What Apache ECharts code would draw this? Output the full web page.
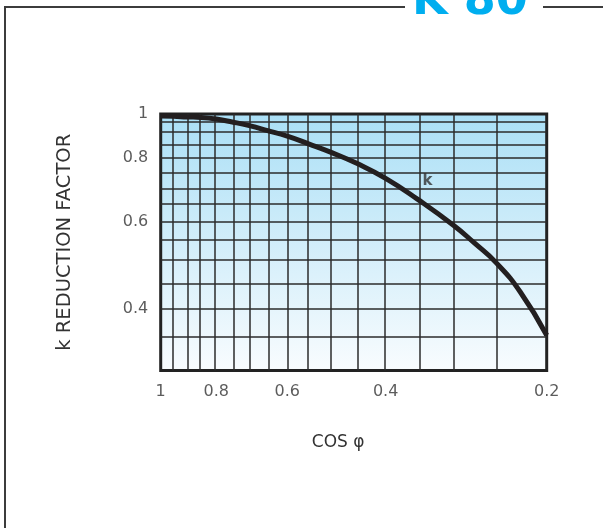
<!DOCTYPE html>
<html><head><meta charset="utf-8">
<script src="https://cdn.jsdelivr.net/npm/echarts@6/dist/echarts.min.js"></script>
<style>html,body{margin:0;padding:0;background:#fff}#c{width:603px;height:528px}</style>
</head><body><div id="c"></div>
<script>
// ---- data ----
const cosPhi   = [1, 0.95, 0.9, 0.85, 0.8, 0.75, 0.7, 0.65, 0.6, 0.55, 0.5, 0.45, 0.4, 0.35, 0.3, 0.275, 0.25, 0.225, 0.2];
const kFactor  = [0.984, 0.982, 0.978, 0.975, 0.965, 0.948, 0.929, 0.906, 0.882, 0.851, 0.818, 0.779, 0.73, 0.665, 0.59, 0.545, 0.497, 0.434, 0.354];
const xGridValues = [0.95, 0.9, 0.85, 0.8, 0.75, 0.7, 0.65, 0.6, 0.55, 0.5, 0.45, 0.4, 0.35, 0.3, 0.25];
const yGridValues = [0.95, 0.9, 0.85, 0.8, 0.75, 0.7, 0.65, 0.6, 0.55, 0.5, 0.45, 0.4, 0.35];
const xTickLabels = [1, 0.8, 0.6, 0.4, 0.2];
const yTickLabels = [1, 0.8, 0.6, 0.4];
const curveLabel = 'k';
const curveLabelAt = 0.35;
const titleText = 'K 80';
const xName = 'COS φ';
const yName = 'k REDUCTION FACTOR';
const X_MIN = 0.2, X_MAX = 1, Y_MIN = 0.3, Y_MAX = 1;

// axis scale transforms of the (non-linear) chart paper
function fx(c) { return Math.log((X_MAX + 0.03) / (c + 0.03)) / Math.log((X_MAX + 0.03) / (X_MIN + 0.03)); }
function fyRaw(k) {
  const L = Math.log(Y_MAX / k) / Math.log(Y_MAX / Y_MIN);
  return L - 0.445 * L * Math.exp(-L / 0.11);
}
function fy(k) { return fyRaw(k) / fyRaw(Y_MIN); }

const FONT = '"DejaVu Sans", "Liberation Sans", sans-serif';
const chart = echarts.init(document.getElementById('c'), null, {renderer: 'canvas'});
const labelIdx = cosPhi.indexOf(curveLabelAt);

chart.setOption({
  animation: false,
  backgroundColor: '#fff',
  grid: {
    left: 160.7, right: 56.3, top: 114, bottom: 157.5,
    show: true,
    backgroundColor: new echarts.graphic.LinearGradient(0, 0, 0, 1, [
      {offset: 0, color: '#aadff6'},
      {offset: 1, color: '#f9fcfe'}
    ]),
    borderColor: '#222', borderWidth: 3
  },
  xAxis: {
    type: 'value', min: 0, max: 1,
    axisLine: {show: false}, axisTick: {show: false}, axisLabel: {show: false}, splitLine: {show: false},
    name: xName, nameLocation: 'middle', nameGap: 64,
    nameTextStyle: {fontSize: 17, color: '#333', fontFamily: FONT, padding: [0, 31, 0, 0]}
  },
  yAxis: {
    type: 'value', min: 0, max: 1, inverse: true,
    axisLine: {show: false}, axisTick: {show: false}, axisLabel: {show: false}, splitLine: {show: false},
    name: yName, nameLocation: 'middle', nameGap: 86, nameRotate: 90,
    nameTextStyle: {fontSize: 19.5, color: '#333', fontFamily: FONT}
  },
  graphic: [
    {type: 'line', shape: {x1: 4, y1: 7, x2: 405, y2: 7}, style: {stroke: '#3c3c3c', lineWidth: 2}},
    {type: 'line', shape: {x1: 543, y1: 7, x2: 603, y2: 7}, style: {stroke: '#3c3c3c', lineWidth: 2}},
    {type: 'line', shape: {x1: 5, y1: 6, x2: 5, y2: 528}, style: {stroke: '#3c3c3c', lineWidth: 2}},
    {type: 'text', style: {x: 412, y: 2, text: titleText, fontSize: 46, fontWeight: 'bold', fontFamily: FONT,
      fill: '#00aeef', align: 'left', verticalAlign: 'middle'}}
  ],
  series: [
    {
      type: 'line', data: [], z: 2, silent: true,
      markLine: {
        silent: true, symbol: ['none', 'none'], label: {show: false},
        lineStyle: {color: '#2b2b2b', width: 1.5, type: 'solid'},
        emphasis: {disabled: true},
        data: xGridValues.map(v => ({xAxis: fx(v)})).concat(yGridValues.map(v => ({yAxis: fy(v)})))
      }
    },
    {
      type: 'line', smooth: 0.5, symbol: 'none', z: 5,
      lineStyle: {width: 5, color: '#231f20', join: 'round'},
      data: cosPhi.map((c, i) => [fx(c), fy(kFactor[i])])
    },
    {
      type: 'scatter', z: 6, symbolSize: 1, itemStyle: {color: 'rgba(0,0,0,0)'}, silent: true,
      data: yTickLabels.map(v => [fx(X_MAX), fy(v)]),
      label: {show: true, position: 'left', distance: 12, fontSize: 16, color: '#333', fontFamily: FONT,
        formatter: p => String(yTickLabels[p.dataIndex])}
    },
    {
      type: 'scatter', z: 6, symbolSize: 1, itemStyle: {color: 'rgba(0,0,0,0)'}, silent: true,
      data: xTickLabels.map(v => [fx(v), fy(Y_MIN)]),
      label: {show: true, position: 'bottom', distance: 13, fontSize: 16, color: '#333', fontFamily: FONT,
        formatter: p => String(xTickLabels[p.dataIndex])}
    },
    {
      type: 'scatter', z: 6, symbolSize: 1, itemStyle: {color: 'rgba(0,0,0,0)'}, silent: true,
      data: [[fx(cosPhi[labelIdx]), fy(kFactor[labelIdx])]],
      label: {show: true, position: 'top', distance: 10, offset: [10, 0], fontSize: 15, fontWeight: 'bold',
        color: '#333', fontFamily: FONT, formatter: curveLabel}
    }
  ]
});
</script></body></html>
